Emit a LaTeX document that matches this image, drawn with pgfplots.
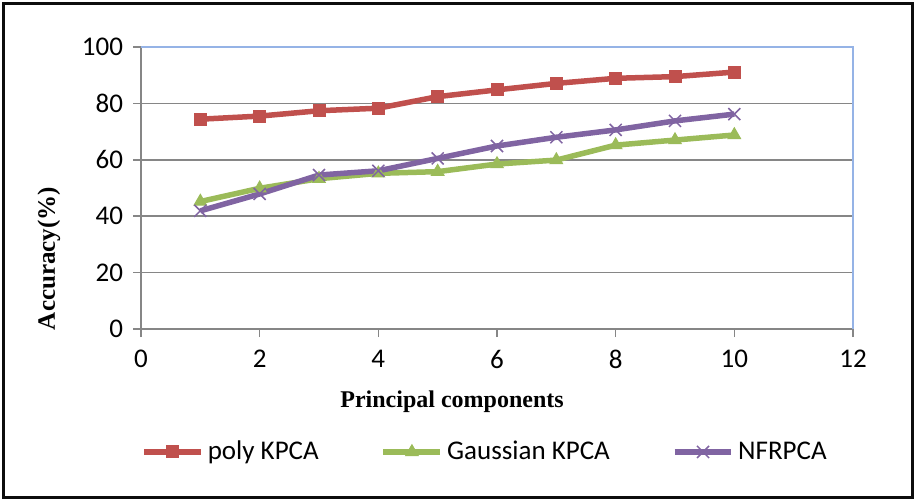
\documentclass[border=0pt]{standalone}
\usepackage{pgfplots}
\pgfplotsset{compat=1.18}
\usepackage{fontspec}
\setmainfont{Carlito}
\newfontfamily\timesfont{Liberation Serif}
\definecolor{polyred}{RGB}{192,80,77}
\definecolor{gaussgreen}{RGB}{155,187,89}
\definecolor{nfrpurple}{RGB}{128,100,162}
\definecolor{gridgray}{RGB}{134,134,134}
\definecolor{lightblue}{RGB}{149,179,230}
\begin{document}
\begin{tikzpicture}
\useasboundingbox (0pt,0pt) rectangle (457.5pt,250pt);
\draw[line width=1.5pt,black!95] (1.5pt,1.5pt) rectangle (456pt,248.5pt);
\begin{axis}[
  at={(70.5pt,85.5pt)}, anchor=south west,
  scale only axis, width=356pt, height=141pt,
  xmin=0, xmax=12, ymin=0, ymax=100,
  xtick={0,2,...,12}, ytick={0,20,...,100},
  xtick pos=left, ytick pos=left,
  tick align=outside, major tick length=4pt,
  tick style={gridgray, line width=0.75pt},
  ymajorgrids, grid style={gridgray, line width=0.75pt},
  axis line style={draw=none},
  /pgf/number format/assume math mode=true,
  ticklabel style={font=\fontsize{13.5}{15}\selectfont},
  yticklabel style={xshift=-1.5pt},
  xticklabel style={yshift=-3pt},
  legend columns=3,
  legend style={at={(0.4846,-0.436)}, anchor=center, draw=none, fill=none,
    font=\fontsize{13.5}{15}\selectfont,
    /tikz/every even column/.append style={column sep=29pt}},
  legend image code/.code={\draw[mark repeat=2,mark phase=2] plot coordinates {(0cm,0cm)(0.5cm,0cm)(1cm,0cm)};},
  clip=false,
]
\draw[gridgray, line width=0.75pt] (rel axis cs:0,1) -- (rel axis cs:0,0) -- (rel axis cs:1,0);
\draw[lightblue, line width=0.75pt] (rel axis cs:0,1) -- (rel axis cs:1,1) -- (rel axis cs:1,0);
\addplot[polyred, line width=2.75pt, mark=square*, mark size=3pt, mark options={line width=0.5pt}]
  coordinates {(1,74.4)(2,75.5)(3,77.4)(4,78.3)(5,82.4)(6,84.8)(7,87.1)(8,88.9)(9,89.5)(10,91.1)};
\addlegendentry{poly KPCA}
\addplot[gaussgreen, line width=2.75pt, mark=triangle*, mark size=3.6pt, mark options={line width=0.5pt}]
  coordinates {(1,45.2)(2,49.9)(3,53.3)(4,55.2)(5,55.8)(6,58.5)(7,59.9)(8,65.2)(9,67.0)(10,68.8)};
\addlegendentry{Gaussian KPCA}
\addplot[nfrpurple, line width=2.75pt, mark=x, mark size=4.25pt, mark options={line width=0.75pt}]
  coordinates {(1,41.9)(2,47.9)(3,54.6)(4,56.1)(5,60.5)(6,64.9)(7,68.0)(8,70.6)(9,73.8)(10,76.2)};
\addlegendentry{NFRPCA}
\end{axis}
\node[font=\timesfont\bfseries\fontsize{12}{14}\selectfont] at (226pt,49pt) {Principal components};
\node[font=\timesfont\bfseries\fontsize{12.5}{14}\selectfont, rotate=90] at (24.5pt,120.75pt) {Accuracy(\%)};
\end{tikzpicture}
\end{document}
